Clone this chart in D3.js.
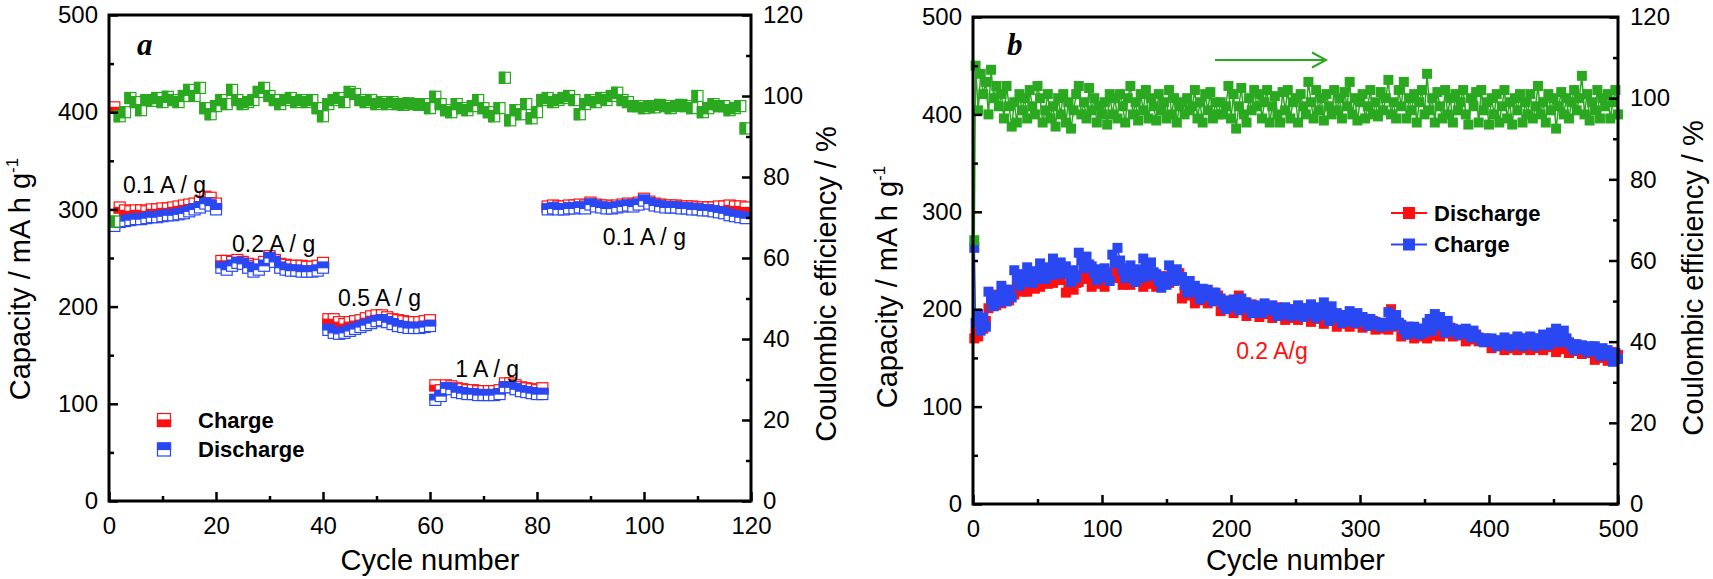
<!DOCTYPE html>
<html>
<head>
<meta charset="utf-8">
<script src="https://cdn.jsdelivr.net/npm/d3@7"></script>
<style>
  html, body { margin: 0; padding: 0; background: #fff; }
  svg { display: block; font-family: "Liberation Sans", Arial, sans-serif; }
</style>
</head>
<body>
<svg id="chart" width="1713" height="579"></svg>
<script>
// ---- panel a: rate test, one point per cycle ----
const cyclesA = d3.range(1, 120);

const chargeA = [
  405, 302, 299, 298, 299, 299, 298, 300, 300, 301, 301, 302, 303, 304, 305, 306, 308, 313, 312, 306,
  247, 247, 246, 248, 246, 244, 242, 243, 246, 252, 248, 244, 243, 242, 242, 242, 241, 241, 242, 245,
  187, 187, 184, 182, 184, 185, 186, 188, 190, 191, 191, 189, 187, 186, 185, 184, 184, 184, 185, 186,
  119, 114, 119, 118, 116, 115, 114, 114, 113, 113, 113, 113, 114, 121, 121, 119, 117, 116, 115, 114, 116,
  303, 304, 303, 303, 304, 304, 305, 304, 307, 305, 304, 304, 303, 304, 305, 306, 305, 307, 311, 308,
  306, 305, 304, 304, 304, 303, 303, 303, 302, 302, 302, 302, 303, 303, 304, 303, 303, 302
];

const dischargeA = [
  283, 287, 288, 289, 290, 290, 291, 292, 292, 293, 294, 294, 295, 296, 298, 300, 302, 306, 304, 300,
  240, 238, 242, 245, 244, 240, 236, 238, 242, 250, 246, 240, 238, 237, 237, 236, 236, 236, 237, 240,
  176, 173, 172, 173, 175, 177, 179, 181, 183, 185, 186, 184, 182, 180, 179, 178, 178, 178, 179, 180,
  104, 108, 116, 115, 112, 111, 110, 110, 109, 109, 109, 109, 110, 117, 117, 115, 113, 112, 111, 110, 110,
  300, 301, 300, 300, 301, 301, 302, 301, 305, 303, 302, 301, 301, 302, 303, 304, 303, 305, 309, 306,
  304, 303, 302, 302, 302, 301, 301, 300, 300, 299, 299, 298, 297, 296, 294, 293, 292, 291
];

const ceA = [
  69, 95, 96, 99.5, 98.5, 96.5, 99, 98.8, 99.5, 98.5, 99.8, 99, 98.5, 100, 101.5, 100, 102, 97, 95.5, 97.5,
  99, 98, 101.5, 99, 98, 98.5, 99, 101, 102, 100, 99, 98, 99, 99.5, 98.5, 99, 98.5, 99, 97, 95,
  98, 99, 99.5, 98.5, 101, 100.5, 99, 98.5, 99, 98, 98.5, 98, 98.5, 98, 97.8, 98.2, 98, 97.8, 98, 97,
  99.8, 98, 96.5, 96, 98, 97, 96.5, 97.5, 99, 97, 96, 95, 97, 104.5, 94, 96.5, 95.5, 98, 94.5, 96,
  99, 99.5, 98.5, 99, 99.5, 100, 99, 95.5, 98, 99, 98.5, 99.5, 99, 100, 100.8, 99, 98.5, 97.5, 97.5, 97,
  97.5, 97.2, 97.8, 97.5, 97, 97.5, 97.8, 97.5, 97, 100, 96, 97, 98, 97.5, 97.5, 96.5, 97, 97.5, 92
];

// ---- panel b: long cycling at 0.2 A/g, cycle 1 then every 2nd cycle ----
const cyclesB = [1, ...d3.range(2, 501, 2)];

const dischargeB = [
  170,
  176, 172, 186, 180, 188,   201, 208, 215, 204, 211,   206, 213, 220, 209, 216,   215, 222, 229, 218, 225,
  218, 225, 232, 221, 228,   223, 230, 237, 226, 233,   227, 234, 241, 230, 237,   217, 224, 231, 220, 227,
  228, 235, 242, 231, 238,   223, 230, 237, 226, 233,   223, 230, 232, 238, 244,   232, 240, 225, 232, 238,
  225, 232, 239, 228, 235,   223, 230, 237, 226, 233,   223, 229, 234, 226, 231,   227, 234, 240, 230, 237,
  211, 218, 225, 214, 221,   206, 213, 220, 209, 216,   206, 212, 217, 209, 214,   198, 204, 209, 201, 206,
  196, 203, 214, 199, 207,   193, 199, 205, 196, 202,   192, 198, 204, 195, 201,   191, 196, 202, 193, 199,
  189, 194, 200, 191, 197,   189, 195, 201, 192, 198,   187, 193, 200, 190, 196,   185, 192, 199, 188, 195,
  182, 188, 194, 185, 191,   182, 188, 195, 185, 191,   181, 185, 190, 183, 188,   179, 182, 186, 180, 184,
  179, 200, 190, 182, 186,   172, 177, 182, 174, 180,   170, 175, 180, 172, 177,   170, 176, 182, 173, 179,
  172, 178, 184, 175, 181,   172, 175, 178, 173, 177,   167, 172, 177, 169, 174,   167, 168, 170, 167, 169,
  160, 164, 168, 162, 166,   158, 163, 169, 160, 166,   158, 163, 170, 160, 167,   158, 163, 170, 160, 167,
  158, 164, 172, 161, 168,   156, 163, 172, 159, 168,   155, 159, 164, 157, 162,   154, 157, 161, 155, 159,
  148, 153, 158, 150, 156,   147, 151, 156, 149, 153
];

const chargeB = [
  263,
  186, 195, 178, 191, 182,   218, 210, 203, 214, 207,   224, 216, 208, 220, 212,   240, 232, 224, 236, 228,
  243, 235, 227, 239, 231,   247, 239, 231, 243, 235,   252, 244, 236, 248, 240,   244, 236, 228, 240, 232,
  258, 250, 242, 254, 246,   244, 237, 230, 241, 233,   242, 235, 229, 256, 247,   263, 250, 240, 232, 242,
  245, 236, 228, 241, 232,   252, 243, 234, 248, 238,   236, 229, 222, 233, 225,   245, 237, 229, 241, 233,
  233, 225, 217, 229, 221,   224, 217, 210, 221, 213,   220, 214, 208, 217, 211,   211, 205, 200, 208, 203,
  210, 204, 199, 211, 202,   207, 201, 196, 204, 198,   203, 196, 206, 199, 201,   204, 198, 193, 201, 195,
  202, 197, 193, 200, 194,   204, 198, 192, 201, 195,   205, 198, 191, 202, 194,   207, 197, 188, 203, 192,
  196, 191, 186, 194, 188,   198, 192, 186, 196, 189,   192, 187, 183, 190, 185,   187, 184, 182, 186, 183,
  197, 190, 183, 194, 186,   184, 179, 174, 182, 176,   182, 178, 174, 180, 176,   186, 190, 178, 195, 184,
  192, 183, 176, 188, 180,   180, 177, 174, 179, 175,   180, 175, 171, 178, 173,   171, 168, 166, 170, 167,
  170, 166, 162, 168, 164,   171, 166, 162, 169, 164,   172, 167, 162, 170, 164,   172, 167, 162, 170, 164,
  174, 169, 163, 176, 166,   180, 173, 166, 178, 170,   166, 162, 158, 164, 160,   163, 159, 156, 162, 157,
  162, 157, 152, 160, 154,   158, 152, 146, 155, 149
];

const ceB = [
  65,
  108, 97, 106, 101, 104,   96, 107, 100, 103, 98,   101, 95, 103, 98, 93,   99, 94, 101, 97, 100,
  95, 102, 98, 96, 103,   100, 94, 97, 101, 95,   98, 93, 100, 96, 101,   94, 99, 92.5, 97, 101,
  103, 96, 99, 95, 102.5,   97, 100, 94, 98, 96,   99, 93.5, 101, 96, 100,   95, 101, 98, 94, 100,
  103, 96, 99, 94.5, 101,   97, 102, 95, 100, 98,   94.5, 101, 97, 99, 95,   102, 96, 100, 94, 98,
  99, 96, 100, 97, 98,   102, 95, 99, 94, 101,   97, 101.5, 95, 99, 96,   99, 96, 98, 103, 95,
  101, 92.5, 98, 102.5, 96,   94, 100, 97, 102, 98,   101, 95, 99, 102, 94,   98, 100.5, 96, 94, 101.5,
  97, 102, 95, 99, 100,   94, 101, 98, 96, 104,   99, 95, 102, 97, 100,   94.5, 101, 98, 96, 102,
  97, 100, 95, 101.5, 98,   104, 96, 100, 94.5, 99,   101, 95, 98, 102, 96,   99, 95.5, 101.5, 97, 100,
  104.5, 96, 99, 95, 102,   98, 104, 95, 100, 97,   101, 94, 99, 102, 96,   106, 97, 100, 94, 101.5,
  98, 95, 102, 96, 100,   94, 101, 97, 99, 102,   96, 93.5, 100, 98, 101.5,   94, 102, 97, 99, 93.5,
  100, 96, 101, 94, 98,   102, 95, 99, 93.5, 100,   97, 101, 94, 99, 96,   101, 95, 98, 103, 96,
  99, 94, 101, 97, 100,   92.5, 98, 101.5, 96, 100,   95, 99, 102, 97, 100,   105.5, 96, 101, 94.5, 99,
  97, 102, 95, 100, 98,   101, 95, 99, 102, 96
];

const capTicks = [0, 100, 200, 300, 400, 500];
const capMinor = [50, 150, 250, 350, 450];
const ceTicks = [0, 20, 40, 60, 80, 100, 120];
const ceMinor = [10, 30, 50, 70, 90, 110];

const RED = '#ff1010';
const BLUE = '#2a48f2';
const GREEN = '#2aa820';

const svg = d3.select('#chart');

function drawAxes(g, box, x, yl, yr, xTicks, xMinor) {
  const styleAxis = (s) => {
    s.select('.domain').remove();
    s.attr('font-size', 24).attr('font-family', '"Liberation Sans", Arial, sans-serif');
    s.selectAll('line').attr('stroke', '#000').attr('stroke-width', 2.5);
    s.selectAll('text').attr('fill', '#000');
  };
  g.append('g').attr('transform', `translate(0,${box.bottom})`)
    .call(d3.axisBottom(x).tickValues(xTicks).tickSize(-9).tickPadding(16)).call(styleAxis);
  g.append('g').attr('transform', `translate(0,${box.bottom})`)
    .call(d3.axisBottom(x).tickValues(xMinor).tickSize(-5).tickFormat('')).call(styleAxis);
  g.append('g').attr('transform', `translate(${box.left},0)`)
    .call(d3.axisLeft(yl).tickValues(capTicks).tickSize(-9).tickPadding(11)).call(styleAxis);
  g.append('g').attr('transform', `translate(${box.left},0)`)
    .call(d3.axisLeft(yl).tickValues(capMinor).tickSize(-5).tickFormat('')).call(styleAxis);
  g.append('g').attr('transform', `translate(${box.right},0)`)
    .call(d3.axisRight(yr).tickValues(ceTicks).tickSize(-9).tickPadding(12)).call(styleAxis);
  g.append('g').attr('transform', `translate(${box.right},0)`)
    .call(d3.axisRight(yr).tickValues(ceMinor).tickSize(-5).tickFormat('')).call(styleAxis);

  g.append('rect')
    .attr('x', box.left).attr('y', box.top)
    .attr('width', box.right - box.left).attr('height', box.bottom - box.top)
    .attr('fill', 'none').attr('stroke', '#000').attr('stroke-width', 3);
}

function drawTitles(g, box, leftX, leftY, rightX, rightY) {
  g.append('text')
    .attr('x', (box.left + box.right) / 2).attr('y', 570)
    .attr('text-anchor', 'middle').attr('font-size', 29)
    .text('Cycle number');

  const cap = g.append('text')
    .attr('transform', `translate(${leftX},${leftY}) rotate(-90)`)
    .attr('text-anchor', 'middle').attr('font-size', 29);
  cap.append('tspan').text('Capacity / mA h g');
  cap.append('tspan').attr('font-size', 17).attr('dy', -12).text('-1');

  g.append('text')
    .attr('transform', `translate(${rightX},${rightY}) rotate(-90)`)
    .attr('text-anchor', 'middle').attr('font-size', 29)
    .text('Coulombic efficiency / %');
}

// half-filled square markers (panel a)
function halfSquares(g, pts, x, y, color, half, s) {
  const m = g.append('g').selectAll('g').data(pts).join('g')
    .attr('transform', (d) => `translate(${x(d[0])},${y(d[1])})`);
  m.append('rect')
    .attr('x', -s / 2).attr('y', -s / 2).attr('width', s).attr('height', s)
    .attr('fill', '#fff').attr('stroke', color).attr('stroke-width', 1.2);
  const r = half === 'top' ? [-s / 2, -s / 2, s, s / 2]
    : half === 'bottom' ? [-s / 2, 0, s, s / 2]
    : [-s / 2, -s / 2, s / 2, s];
  m.append('rect')
    .attr('x', r[0]).attr('y', r[1]).attr('width', r[2]).attr('height', r[3])
    .attr('fill', color).attr('stroke', color).attr('stroke-width', 1.2);
}

// line + filled squares (panel b)
function lineSquares(g, pts, x, y, color, s) {
  const line = d3.line().x((d) => x(d[0])).y((d) => y(d[1]));
  g.append('path').datum(pts).attr('d', line)
    .attr('fill', 'none').attr('stroke', color).attr('stroke-width', 1.5);
  g.append('g').selectAll('rect').data(pts).join('rect')
    .attr('x', (d) => x(d[0]) - s / 2).attr('y', (d) => y(d[1]) - s / 2)
    .attr('width', s).attr('height', s).attr('fill', color);
}

// ================= panel a =================
const boxA = { left: 109, right: 751, top: 15, bottom: 501 };
const xA = d3.scaleLinear().domain([0, 120]).range([boxA.left, boxA.right]);
const yA = d3.scaleLinear().domain([0, 500]).range([boxA.bottom, boxA.top]);
const yA2 = d3.scaleLinear().domain([0, 120]).range([boxA.bottom, boxA.top]);

const gA = svg.append('g');
halfSquares(gA, cyclesA.map((c, i) => [c, chargeA[i]]), xA, yA, RED, 'bottom', 11);
halfSquares(gA, cyclesA.map((c, i) => [c, dischargeA[i]]), xA, yA, BLUE, 'top', 11);
halfSquares(gA, cyclesA.map((c, i) => [c, ceA[i]]), xA, yA2, GREEN, 'left', 11);

const ratesA = [
  { text: '0.1 A / g', at: [2.6, 317] },
  { text: '0.2 A / g', at: [23, 256] },
  { text: '0.5 A / g', at: [42.8, 200.5] },
  { text: '1 A / g', at: [64.7, 127.5] },
  { text: '0.1 A / g', at: [92.3, 263.5] }
];
gA.append('g').selectAll('text').data(ratesA).join('text')
  .attr('x', (d) => xA(d.at[0])).attr('y', (d) => yA(d.at[1]))
  .attr('font-size', 23).text((d) => d.text);

gA.append('text')
  .attr('x', 137).attr('y', 55)
  .attr('font-family', '"Liberation Serif", "Times New Roman", serif')
  .attr('font-style', 'italic').attr('font-weight', 'bold').attr('font-size', 31)
  .text('a');

// legend a
const legA = [
  { name: 'Charge', color: RED, half: 'bottom' },
  { name: 'Discharge', color: BLUE, half: 'top' }
];
legA.forEach((d, i) => {
  const cy = 420 + i * 29.5;
  halfSquares(gA, [[0, 0]], () => 164, () => cy, d.color, d.half, 13);
  gA.append('text').attr('x', 198).attr('y', cy + 7.5)
    .attr('font-size', 22).attr('font-weight', 'bold').text(d.name);
});

drawAxes(gA, boxA, xA, yA, yA2, [0, 20, 40, 60, 80, 100, 120], [10, 30, 50, 70, 90, 110]);
drawTitles(gA, boxA, 30, 279, 836, 284);

// ================= panel b =================
const boxB = { left: 973, right: 1618, top: 17, bottom: 504 };
const xB = d3.scaleLinear().domain([0, 500]).range([boxB.left, boxB.right]);
const yB = d3.scaleLinear().domain([0, 500]).range([boxB.bottom, boxB.top]);
const yB2 = d3.scaleLinear().domain([0, 120]).range([boxB.bottom, boxB.top]);

const gB = svg.append('g');
lineSquares(gB, cyclesB.map((c, i) => [c, dischargeB[i]]), xB, yB, RED, 10);
lineSquares(gB, cyclesB.map((c, i) => [c, chargeB[i]]), xB, yB, BLUE, 10);
lineSquares(gB, cyclesB.map((c, i) => [c, ceB[i]]), xB, yB2, GREEN, 10);

gB.append('text')
  .attr('x', 1007).attr('y', 55)
  .attr('font-family', '"Liberation Serif", "Times New Roman", serif')
  .attr('font-style', 'italic').attr('font-weight', 'bold').attr('font-size', 31)
  .text('b');

gB.append('text')
  .attr('x', xB(204)).attr('y', yB(149))
  .attr('font-size', 23).attr('fill', RED).text('0.2 A/g');

// arrow pointing to the efficiency axis
gB.append('path')
  .attr('d', 'M1215,60 L1326,60 M1312,52.5 L1326,60 L1312,67.5')
  .attr('fill', 'none').attr('stroke', GREEN).attr('stroke-width', 2);

// legend b
const legB = [
  { name: 'Discharge', color: RED },
  { name: 'Charge', color: BLUE }
];
legB.forEach((d, i) => {
  const cy = 213 + i * 31.5;
  gB.append('line').attr('x1', 1391).attr('x2', 1427).attr('y1', cy).attr('y2', cy)
    .attr('stroke', d.color).attr('stroke-width', 2);
  gB.append('rect').attr('x', 1403).attr('y', cy - 6).attr('width', 12).attr('height', 12)
    .attr('fill', d.color);
  gB.append('text').attr('x', 1434).attr('y', cy + 7.5)
    .attr('font-size', 22).attr('font-weight', 'bold').text(d.name);
});

drawAxes(gB, boxB, xB, yB, yB2, [0, 100, 200, 300, 400, 500], [50, 150, 250, 350, 450]);
drawTitles(gB, boxB, 897, 287, 1703, 278);
</script>
</body>
</html>
